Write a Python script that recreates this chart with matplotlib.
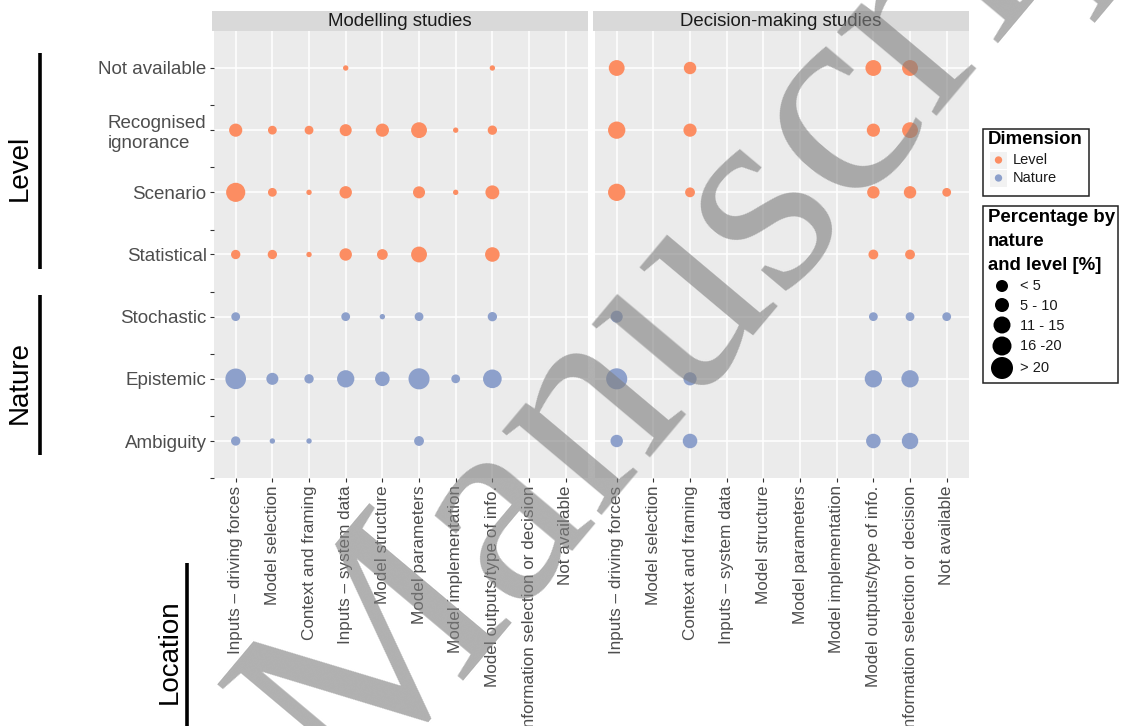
import matplotlib
matplotlib.use("Agg")
from matplotlib import pyplot as plt
from matplotlib.patches import Rectangle
import numpy as np

plt.rcParams['font.family'] = ['Liberation Sans', 'DejaVu Sans']

#categories
locations = ["Inputs \u2013 driving forces", "Model selection", "Context and framing",
             "Inputs \u2013 system data", "Model structure", "Model parameters",
             "Model implementation", "Model outputs/type of info.",
             "Information selection or decision", "Not available"]
#uncertainty rows, top to bottom
uncertainties = ["Not available", "Recognised\nignorance", "Scenario", "Statistical",
                 "Stochastic", "Epistemic", "Ambiguity"]
dimensions = ["Level", "Level", "Level", "Level", "Nature", "Nature", "Nature"]
studies = ["Modelling studies", "Decision-making studies"]

#percentage by nature and level (0 = no study), one row per uncertainty
modelling_pct = [
    [0, 0, 0, 1.5, 0, 0, 0, 1.5, 0, 0],
    [9, 4, 4, 7.5, 9, 13, 1.5, 4.5, 0, 0],
    [19, 4, 1.5, 8, 0, 7.5, 1.5, 10, 0, 0],
    [4.5, 4.5, 1.5, 8, 6, 13, 0, 11, 0, 0],
    [4, 0, 0, 4, 1.5, 4, 0, 4.5, 0, 0],
    [22, 7.5, 4.5, 15.5, 11, 23, 4, 18, 0, 0],
    [4.5, 1.5, 1.5, 0, 0, 5, 0, 0, 0, 0],
]
decision_pct = [
    [13, 0, 8, 0, 0, 0, 0, 13, 13, 0],
    [15.5, 0, 9, 0, 0, 0, 0, 9, 13, 0],
    [15.5, 0, 5, 0, 0, 0, 0, 8, 8, 4],
    [0, 0, 0, 0, 0, 0, 0, 5, 5, 0],
    [7.5, 0, 0, 0, 0, 0, 0, 4, 4, 4],
    [23, 0, 9, 0, 0, 0, 0, 15.5, 15.5, 0],
    [8, 0, 11, 0, 0, 0, 0, 11, 14, 0],
]

size_labels = ["< 5", "5 - 10", "11 - 15", "16 -20", "> 20"]
colours = {"Level": "#FC8D62", "Nature": "#8DA0CB"}

W, H = 1125, 726
fig = plt.figure(figsize=(W / 100, H / 100), dpi=100)

def px_box(x0, y0, x1, y1):
    return [x0 / W, 1 - y1 / H, (x1 - x0) / W, (y1 - y0) / H]

panel_x = [(213.7, 587.7), (594.7, 968.7)]
n_rows = len(uncertainties)
yvals = np.arange(n_rows, 0, -1)
xvals = np.arange(1, len(locations) + 1)

for k, (study, data) in enumerate(zip(studies, [modelling_pct, decision_pct])):
    x0, x1 = panel_x[k]
    ax = fig.add_axes(px_box(x0, 30.7, x1, 478.3))
    ax.set_facecolor("#EBEBEB")
    for s in ax.spines.values():
        s.set_visible(False)
    ax.set_xlim(0.4, len(locations) + 0.6)
    ax.set_ylim(0.4, n_rows + 0.6)
    ax.set_xticks(xvals)
    ax.set_yticks(yvals)
    ax.grid(True, color="white", lw=1.1)
    ax.set_axisbelow(True)
    ax.tick_params(length=2.6, width=0.8, color="#333333", pad=2.5,
                   labelcolor="#4D4D4D")
    ax.set_xticklabels(locations, rotation=90, fontsize=12.3, va="top", ha="center")
    if k == 0:
        ax.set_yticklabels(uncertainties, fontsize=13.5)
        for lab in ax.get_yticklabels():
            lab.set_multialignment("left")
        ax.set_yticks(yvals - 0.6, minor=True)
        ax.tick_params(axis="y", which="minor", length=2.6, width=0.8, color="#333333")
    else:
        ax.tick_params(axis="y", left=False, labelleft=False)

    for i, row in enumerate(data):
        vals = np.array(row, dtype=float)
        keep = vals > 0
        ax.scatter(xvals[keep], np.full(keep.sum(), yvals[i]), s=10 * vals[keep],
                   color=colours[dimensions[i]], edgecolors="none", zorder=3)

    # facet strip
    st = fig.add_axes(px_box(x0 - 2, 11, x1 + 0.5, 30.7))
    st.set_facecolor("#D9D9D9")
    st.set_xticks([])
    st.set_yticks([])
    for s in st.spines.values():
        s.set_visible(False)
    st.text(0.5, 0.45, study, ha="center", va="center", fontsize=13.4,
            color="#1A1A1A", transform=st.transAxes)

#overlay in pixel coordinates for brackets, legends and the watermark
ov = fig.add_axes([0, 0, 1, 1])
ov.set_xlim(0, W)
ov.set_ylim(H, 0)
ov.axis("off")
ov.patch.set_alpha(0)
ov.set_zorder(10)

ov.plot([40, 40], [53, 269], color="black", lw=2.6, solid_capstyle="butt")
ov.text(20, 168, "Level", rotation=90, fontsize=20, ha="center", va="center")
ov.plot([40, 40], [295, 455], color="black", lw=2.6, solid_capstyle="butt")
ov.text(20, 383, "Nature", rotation=90, fontsize=20, ha="center", va="center")
ov.plot([187, 187], [563, 726], color="black", lw=2.6, solid_capstyle="butt")
ov.text(170, 652, "Location", rotation=90, fontsize=20, ha="center", va="center")

#colour legend
ov.add_patch(Rectangle((983, 129), 106, 67, fill=False, ec="#222222", lw=1.1))
ov.text(988, 140, "Dimension", fontsize=13.4, fontweight="bold", va="center")
for j, (name, y) in enumerate([("Level", 160), ("Nature", 178)]):
    ov.add_patch(Rectangle((990, y - 8.5), 17, 17, color="#F2F2F2", lw=0))
    ov.scatter([998.5], [y], s=28, color=colours[name], edgecolors="none")
    ov.text(1013, y + 0.5, name, fontsize=10.5, va="center", color="#1A1A1A")

#size legend
ov.add_patch(Rectangle((983, 206), 135, 177, fill=False, ec="#222222", lw=1.1))
for line, y in zip(["Percentage by", "nature", "and level [%]"], [217, 241, 265]):
    ov.text(988, y, line, fontsize=13.4, fontweight="bold", va="center")
key_d = [12, 14, 17, 19, 22]
for lab, d, y in zip(size_labels, key_d, [286, 305, 325, 346, 368]):
    ov.scatter([1002], [y], s=(d * 0.72) ** 2, color="black", edgecolors="none")
    ov.text(1020, y + 0.5, lab, fontsize=10.5, va="center", color="#1A1A1A")

#watermark, split at the start of the second word
wm = dict(rotation=50, rotation_mode="anchor", fontsize=205, family="Liberation Serif",
          color="#808080", alpha=0.62, va="baseline", zorder=20)
ov.text(352, 804, "Accepted ", ha="right", **wm)
ov.text(352, 804, "Manuscript", ha="left", **wm)

fig.savefig("out.png", dpi=100)
